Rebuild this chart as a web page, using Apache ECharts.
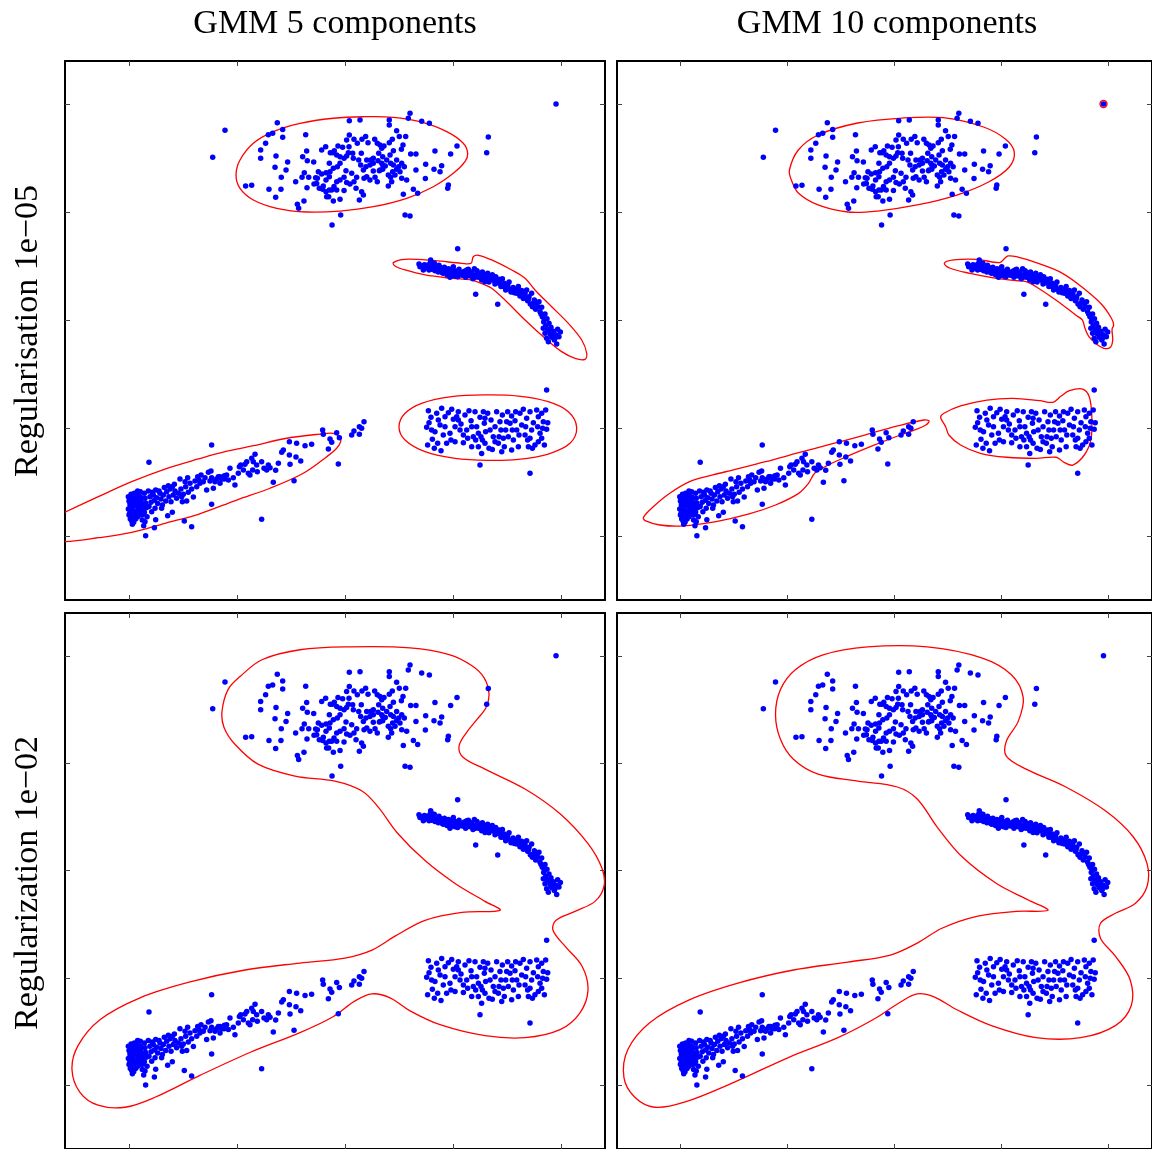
<!DOCTYPE html>
<html>
<head>
<meta charset="utf-8">
<script src="https://cdn.jsdelivr.net/npm/echarts@6/dist/echarts.min.js"></script>
<style>
html,body{margin:0;padding:0;background:#fff}
#chart{width:1152px;height:1149px}
</style>
</head>
<body>
<div id="chart"></div>
<script>
// Column / row headings
const colTitles = ['GMM 5 components', 'GMM 10 components'];
const rowTitles = ['Regularisation 1e\u221205', 'Regularization 1e\u221202'];

// Axis ticks (unlabelled) and visible data window
const tickValues = [-2, -1, 0, 1, 2];
const xRange = [-2.5926, 2.4074];
const yRange = [-2.5926, 2.3981];

// Sample points, grouped by the cluster they sit in
const topCluster = [[-1.111,1.756],[-1.225,1.506],[-0.627,1.827],[-0.577,1.765],[-0.670,1.728],[-0.710,1.716],[-0.735,1.636],[-0.781,1.574],[-0.781,1.497],[-0.577,1.691],[-0.364,1.716],[-0.639,1.519],[-0.531,1.463],[-0.648,1.414],[-0.546,1.389],[-0.590,1.321],[-0.593,1.210],[-0.704,1.210],[-0.642,1.136],[-0.920,1.241],[-0.864,1.247],[-0.457,1.281],[-0.441,1.071],[-0.429,1.034],[-0.380,1.102],[-0.355,1.565],[-0.392,1.512],[-0.349,1.475],[-0.290,1.463],[-0.377,1.364],[-0.398,1.321],[-0.336,1.321],[-0.352,1.225],[-0.272,1.318],[-0.247,1.373],[-0.287,1.259],[-0.216,1.574],[-0.179,1.605],[-0.136,1.549],[-0.099,1.568],[-0.065,1.611],[-0.022,1.599],[0.015,1.667],[0.040,1.713],[0.037,1.605],[0.071,1.543],[0.083,1.673],[0.114,1.636],[0.157,1.673],[0.191,1.698],[0.213,1.642],[0.275,1.673],[0.324,1.620],[0.361,1.611],[0.410,1.642],[0.438,1.673],[0.478,1.753],[0.503,1.698],[0.562,1.698],[0.537,1.620],[0.522,1.580],[0.448,1.568],[0.417,1.528],[0.349,1.512],[0.312,1.543],[0.262,1.497],[0.201,1.481],[0.151,1.543],[0.127,1.481],[0.145,1.435],[0.170,1.389],[0.194,1.420],[0.231,1.435],[0.238,1.481],[0.262,1.451],[0.306,1.475],[0.340,1.451],[0.373,1.426],[0.423,1.451],[0.478,1.481],[0.525,1.451],[0.549,1.420],[0.509,1.373],[0.478,1.395],[0.441,1.373],[0.401,1.343],[0.349,1.395],[0.318,1.383],[0.262,1.380],[0.201,1.327],[0.176,1.312],[0.108,1.321],[0.083,1.281],[0.062,1.358],[0.009,1.383],[-0.009,1.321],[-0.046,1.296],[-0.077,1.281],[-0.102,1.235],[-0.145,1.204],[-0.176,1.188],[-0.201,1.241],[-0.176,1.296],[-0.145,1.327],[-0.139,1.373],[-0.108,1.404],[-0.071,1.420],[-0.046,1.451],[-0.009,1.497],[0.015,1.519],[0.031,1.549],[0.077,1.497],[-0.046,1.512],[-0.077,1.528],[-0.114,1.549],[-0.145,1.451],[-0.176,1.364],[-0.216,1.352],[-0.256,1.312],[-0.262,1.265],[-0.238,1.219],[-0.207,1.210],[-0.170,1.142],[-0.123,1.204],[-0.077,1.204],[-0.046,1.117],[-0.108,1.102],[-0.151,1.142],[-0.009,1.198],[0.102,1.219],[0.154,1.188],[0.133,1.111],[0.170,1.157],[0.015,1.272],[0.046,1.259],[0.602,1.914],[0.586,1.867],[0.710,1.840],[0.781,1.821],[0.410,1.852],[0.410,1.806],[0.139,1.852],[0.040,1.846],[0.657,1.537],[0.608,1.537],[0.657,1.389],[0.747,1.441],[0.744,1.309],[0.824,1.395],[0.833,1.565],[0.895,1.429],[0.880,1.373],[0.978,1.537],[1.037,1.611],[0.957,1.250],[0.951,1.219],[0.540,1.164],[0.633,1.210],[0.673,1.173],[0.556,0.972],[0.602,0.963],[0.401,1.241],[0.432,1.281],[0.423,1.321],[0.463,1.343],[0.525,1.312],[0.571,1.296],[0.299,1.281],[0.278,1.321],[0.231,1.296],[0.324,1.389],[0.349,1.435],[0.448,1.435],[0.497,1.420],[0.386,1.481],[0.340,1.590],[0.299,1.636],[-0.040,0.972],[-0.120,0.880],[1.327,1.694],[1.312,1.549]];

const arcCluster = [[0.685,0.519],[0.710,0.500],[0.735,0.512],[0.747,0.481],[0.772,0.494],[0.787,0.525],[0.793,0.556],[0.802,0.469],[0.818,0.500],[0.833,0.457],[0.849,0.481],[0.864,0.444],[0.870,0.506],[0.889,0.469],[0.901,0.438],[0.920,0.488],[0.926,0.457],[0.944,0.420],[0.957,0.475],[0.972,0.444],[0.988,0.414],[1.003,0.494],[1.012,0.457],[1.025,0.432],[1.043,0.401],[1.056,0.469],[1.074,0.438],[1.086,0.414],[1.105,0.451],[1.117,0.395],[1.136,0.426],[1.142,0.469],[1.160,0.407],[1.173,0.444],[1.185,0.383],[1.198,0.475],[1.210,0.420],[1.222,0.457],[1.235,0.395],[1.250,0.432],[1.265,0.370],[1.272,0.444],[1.290,0.407],[1.302,0.377],[1.321,0.432],[1.333,0.352],[1.352,0.395],[1.364,0.420],[1.383,0.364],[1.395,0.401],[1.414,0.346],[1.426,0.377],[1.444,0.309],[1.457,0.383],[1.475,0.340],[1.488,0.278],[1.506,0.321],[1.519,0.352],[1.537,0.259],[1.556,0.302],[1.574,0.284],[1.590,0.247],[1.605,0.309],[1.620,0.222],[1.636,0.272],[1.651,0.198],[1.667,0.247],[1.682,0.278],[1.691,0.179],[1.704,0.216],[1.716,0.148],[1.728,0.247],[1.735,0.123],[1.753,0.185],[1.765,0.099],[1.778,0.154],[1.796,0.170],[1.806,0.077],[1.821,0.117],[1.827,0.031],[1.840,-0.019],[1.852,0.056],[1.858,-0.056],[1.870,0.012],[1.877,-0.093],[1.889,-0.031],[1.898,-0.130],[1.907,-0.068],[1.914,-0.160],[1.929,-0.105],[1.938,-0.185],[1.951,-0.136],[1.960,-0.222],[1.969,-0.086],[1.981,-0.154],[1.994,-0.111],[1.852,-0.123],[1.836,-0.077],[1.867,-0.170],[1.883,-0.201],[1.043,0.660],[1.210,0.238],[1.414,0.145],[0.802,0.531],[0.725,0.463],[0.910,0.432],[0.972,0.395],[1.127,0.463],[1.296,0.355],[1.389,0.333],[0.694,0.494],[0.756,0.506],[0.778,0.463],[0.827,0.525],[0.858,0.469],[0.880,0.488],[0.910,0.463],[0.941,0.451],[0.963,0.432],[0.981,0.469],[1.019,0.407],[1.034,0.451],[1.065,0.420],[1.096,0.432],[1.127,0.407],[1.157,0.438],[1.179,0.414],[1.204,0.395],[1.241,0.420],[1.259,0.401],[1.281,0.426],[1.312,0.401],[1.343,0.370],[1.373,0.389],[1.404,0.364],[1.435,0.340],[1.466,0.309],[1.497,0.302],[1.528,0.284],[1.568,0.253],[1.599,0.272],[1.630,0.241],[1.660,0.216],[1.698,0.191],[1.744,0.154],[1.784,0.123],[1.815,0.056],[1.846,0.006],[1.895,-0.086],[1.923,-0.136],[1.944,-0.170]];

const boxCluster = [[0.772,-0.840],[0.796,-0.901],[0.778,-0.951],[0.756,-0.994],[0.765,-1.157],[0.827,-1.188],[0.809,-1.105],[0.849,-0.864],[0.864,-0.926],[0.895,-0.818],[0.926,-0.988],[0.957,-0.858],[0.972,-1.049],[0.988,-0.827],[1.003,-0.920],[1.034,-0.895],[1.019,-1.127],[1.049,-0.849],[1.074,-0.963],[1.096,-1.136],[1.111,-0.880],[1.127,-1.019],[1.148,-0.840],[1.167,-0.932],[1.188,-1.080],[1.204,-0.849],[1.219,-0.988],[1.235,-1.173],[1.250,-0.901],[1.272,-1.111],[1.290,-0.957],[1.302,-1.034],[1.321,-0.864],[1.333,-1.188],[1.352,-0.926],[1.373,-1.080],[1.389,-0.988],[1.404,-0.849],[1.420,-1.142],[1.435,-0.941],[1.457,-0.880],[1.475,-1.173],[1.488,-1.019],[1.506,-0.849],[1.528,-0.957],[1.543,-0.889],[1.559,-1.111],[1.574,-0.932],[1.590,-1.019],[1.605,-1.173],[1.620,-0.864],[1.636,-0.972],[1.651,-0.827],[1.667,-1.065],[1.682,-0.910],[1.698,-1.173],[1.713,-0.849],[1.728,-1.019],[1.744,-0.951],[1.759,-1.157],[1.775,-0.833],[1.790,-0.895],[1.806,-1.049],[1.821,-0.864],[1.836,-0.941],[1.846,-1.157],[1.858,-0.833],[1.867,-1.012],[1.877,-0.951],[1.821,-1.096],[1.735,-1.188],[1.691,-1.111],[1.611,-1.065],[1.543,-1.204],[1.466,-1.096],[1.389,-1.127],[1.364,-1.198],[1.296,-1.142],[1.259,-1.080],[1.210,-1.111],[1.173,-1.173],[1.136,-1.096],[1.096,-1.065],[1.065,-1.019],[1.019,-0.988],[0.981,-1.111],[0.941,-1.142],[0.910,-1.065],[0.880,-0.972],[0.833,-1.034],[0.802,-1.019],[0.858,-1.142],[0.889,-1.210],[1.281,-0.849],[1.343,-1.019],[1.444,-1.019],[1.512,-1.080],[1.580,-0.849],[1.673,-0.988],[1.784,-0.988],[1.497,-0.941],[1.235,-1.049],[0.926,-0.895],[1.049,-0.926],[1.173,-0.988],[1.296,-0.910],[1.426,-1.080],[1.549,-1.019],[1.713,-1.096],[1.790,-1.127],[1.830,-1.003],[1.265,-1.235],[1.451,-1.219],[1.867,-0.648],[1.250,-1.343],[1.713,-1.420]];

const diagCluster = [[-2.006,-1.636],[-2.000,-1.676],[-1.991,-1.713],[-2.006,-1.750],[-1.994,-1.790],[-1.981,-1.821],[-1.975,-1.861],[-1.969,-1.892],[-1.981,-1.614],[-1.960,-1.651],[-1.954,-1.688],[-1.960,-1.728],[-1.951,-1.769],[-1.944,-1.806],[-1.938,-1.843],[-1.929,-1.620],[-1.926,-1.667],[-1.920,-1.707],[-1.914,-1.744],[-1.907,-1.781],[-1.920,-1.821],[-1.898,-1.636],[-1.889,-1.682],[-1.883,-1.719],[-1.877,-1.759],[-1.867,-1.799],[-1.895,-1.590],[-1.858,-1.605],[-1.852,-1.651],[-1.846,-1.694],[-1.840,-1.738],[-1.858,-1.781],[-1.833,-1.821],[-1.877,-1.852],[-1.991,-1.688],[-1.975,-1.759],[-1.944,-1.713],[-1.935,-1.645],[-1.907,-1.688],[-1.883,-1.651],[-1.864,-1.707],[-1.901,-1.731],[-1.963,-1.799],[-1.932,-1.775],[-2.000,-1.806],[-1.975,-1.651],[-1.951,-1.605],[-1.920,-1.583],[-1.988,-1.843],[-1.957,-1.873],[-1.852,-1.867],[-1.864,-1.904],[-1.821,-1.583],[-1.806,-1.636],[-1.796,-1.688],[-1.815,-1.728],[-1.790,-1.775],[-1.775,-1.620],[-1.765,-1.670],[-1.784,-1.596],[-1.753,-1.574],[-1.744,-1.645],[-1.735,-1.698],[-1.759,-1.744],[-1.713,-1.605],[-1.704,-1.657],[-1.722,-1.583],[-1.691,-1.713],[-1.682,-1.620],[-1.673,-1.552],[-1.660,-1.676],[-1.651,-1.590],[-1.636,-1.534],[-1.630,-1.636],[-1.620,-1.565],[-1.611,-1.682],[-1.599,-1.543],[-1.590,-1.620],[-1.580,-1.522],[-1.574,-1.583],[-1.559,-1.651],[-1.543,-1.605],[-1.528,-1.472],[-1.519,-1.565],[-1.512,-1.636],[-1.506,-1.682],[-1.497,-1.614],[-1.481,-1.497],[-1.475,-1.543],[-1.466,-1.676],[-1.457,-1.460],[-1.451,-1.596],[-1.435,-1.512],[-1.420,-1.565],[-1.404,-1.639],[-1.389,-1.491],[-1.373,-1.543],[-1.364,-1.451],[-1.352,-1.481],[-1.343,-1.512],[-1.333,-1.435],[-1.312,-1.497],[-1.296,-1.460],[-1.281,-1.574],[-1.265,-1.410],[-1.250,-1.491],[-1.241,-1.398],[-1.235,-1.460],[-1.219,-1.559],[-1.204,-1.497],[-1.188,-1.472],[-1.173,-1.451],[-1.157,-1.512],[-1.142,-1.472],[-1.127,-1.460],[-1.117,-1.441],[-1.815,-1.318],[-1.235,-1.157],[-1.846,-1.997],[-1.765,-1.923],[-1.753,-1.849],[-1.698,-1.744],[-1.642,-1.812],[-1.599,-1.781],[-1.488,-1.861],[-1.420,-1.914],[-1.235,-1.707],[-1.883,-1.806],[-1.157,-1.451],[-1.120,-1.472],[-1.080,-1.481],[-1.065,-1.373],[-1.019,-1.528],[-0.988,-1.420],[-0.978,-1.358],[-0.966,-1.343],[-0.926,-1.336],[-0.910,-1.312],[-0.895,-1.420],[-0.880,-1.435],[-0.864,-1.281],[-0.855,-1.389],[-0.849,-1.312],[-0.833,-1.244],[-0.812,-1.404],[-0.772,-1.312],[-0.750,-1.373],[-0.710,-1.343],[-0.694,-1.367],[-0.664,-1.503],[-0.642,-1.392],[-0.586,-1.225],[-0.571,-1.204],[-0.515,-1.250],[-0.509,-1.336],[-0.515,-1.127],[-0.472,-1.488],[-0.454,-1.269],[-0.448,-1.142],[-0.410,-1.306],[-0.370,-1.164],[-0.309,-1.151],[-0.207,-1.019],[-0.201,-1.059],[-0.154,-1.194],[-0.139,-1.102],[-0.123,-1.133],[-0.077,-1.043],[-0.062,-1.333],[-0.052,-1.090],[0.062,-1.065],[0.083,-1.028],[0.133,-1.059],[0.133,-0.988],[0.154,-1.003],[0.176,-0.941],[-0.772,-1.846],[-1.096,-1.435],[-1.034,-1.460],[-0.941,-1.389],[-0.818,-1.343],[-0.725,-1.389],[-0.617,-1.327]];

const strayPoint = [1.954, 2.000];

// Density contours, 5 components, regularisation 1e-05
const ring5Top = [[-1.009,1.343],[-0.972,1.481],[-0.849,1.636],[-0.664,1.744],[-0.417,1.821],[-0.108,1.868],[0.169,1.882],[0.447,1.877],[0.694,1.836],[0.942,1.744],[1.095,1.636],[1.136,1.543],[1.111,1.466],[1.003,1.358],[0.818,1.234],[0.571,1.127],[0.262,1.049],[-0.046,1.009],[-0.355,1.000],[-0.632,1.034],[-0.849,1.111],[-0.972,1.219]];
const ring5Arc = [[0.447,0.531],[0.556,0.562],[0.833,0.549],[1.081,0.525],[1.167,0.525],[1.188,0.586],[1.234,0.599],[1.358,0.556],[1.544,0.463],[1.667,0.386],[1.759,0.278],[1.914,0.123],[2.068,-0.031],[2.192,-0.185],[2.238,-0.308],[2.222,-0.364],[2.130,-0.355],[2.006,-0.293],[1.852,-0.169],[1.667,0.000],[1.481,0.185],[1.358,0.293],[1.296,0.324],[1.173,0.370],[0.988,0.386],[0.741,0.417],[0.556,0.463],[0.463,0.500]];
const ring5Box = [[0.500,-0.988],[0.556,-0.864],[0.710,-0.771],[0.988,-0.710],[1.296,-0.694],[1.605,-0.704],[1.882,-0.756],[2.068,-0.849],[2.145,-0.994],[2.083,-1.142],[1.882,-1.241],[1.605,-1.290],[1.327,-1.299],[1.019,-1.281],[0.741,-1.219],[0.556,-1.111]];
const ring5Diag = [[-2.935,-1.963],[-2.824,-1.889],[-2.593,-1.780],[-2.284,-1.636],[-1.975,-1.497],[-1.667,-1.380],[-1.358,-1.287],[-1.111,-1.219],[-0.849,-1.164],[-0.540,-1.095],[-0.231,-1.056],[-0.108,-1.049],[-0.053,-1.081],[-0.040,-1.127],[-0.077,-1.188],[-0.169,-1.266],[-0.386,-1.419],[-0.694,-1.558],[-1.003,-1.667],[-1.358,-1.799],[-1.667,-1.882],[-1.975,-1.966],[-2.284,-2.016],[-2.593,-2.053],[-2.806,-2.046]];

// Density contours, 10 components, regularisation 1e-05
const ring10Top = [[-0.981,1.389],[-0.898,1.574],[-0.713,1.713],[-0.343,1.824],[0.074,1.870],[0.491,1.870],[0.833,1.787],[1.037,1.676],[1.120,1.556],[1.074,1.417],[0.880,1.278],[0.583,1.157],[0.213,1.065],[-0.157,1.009],[-0.435,1.000],[-0.713,1.065],[-0.898,1.176],[-0.963,1.296]];
const ring10Arc = [[0.466,0.525],[0.553,0.556],[0.769,0.562],[0.984,0.531],[1.031,0.571],[1.062,0.593],[1.139,0.586],[1.324,0.531],[1.571,0.432],[1.787,0.278],[1.942,0.139],[2.028,0.016],[2.049,-0.046],[2.034,-0.086],[2.040,-0.185],[2.019,-0.253],[1.957,-0.262],[1.880,-0.216],[1.818,-0.155],[1.781,-0.077],[1.756,0.000],[1.694,0.046],[1.509,0.185],[1.324,0.308],[1.231,0.355],[1.139,0.364],[0.954,0.386],[0.706,0.432],[0.521,0.479]];
const ring10Box = [[0.432,-0.901],[0.463,-0.864],[0.618,-0.796],[0.864,-0.741],[1.111,-0.725],[1.358,-0.747],[1.481,-0.762],[1.558,-0.704],[1.636,-0.655],[1.759,-0.639],[1.821,-0.710],[1.845,-0.895],[1.836,-1.111],[1.775,-1.250],[1.667,-1.343],[1.590,-1.321],[1.512,-1.271],[1.327,-1.281],[1.049,-1.271],[0.803,-1.234],[0.618,-1.157],[0.509,-1.065],[0.479,-0.988]];
const ring10Diag = [[-2.345,-1.827],[-2.253,-1.729],[-2.099,-1.605],[-1.914,-1.497],[-1.697,-1.435],[-1.512,-1.389],[-1.204,-1.312],[-0.895,-1.229],[-0.586,-1.148],[-0.278,-1.065],[0.031,-0.981],[0.278,-0.926],[0.324,-0.935],[0.294,-0.972],[0.185,-1.019],[0.031,-1.074],[-0.185,-1.157],[-0.432,-1.259],[-0.618,-1.343],[-0.741,-1.414],[-0.803,-1.512],[-0.895,-1.605],[-1.111,-1.713],[-1.358,-1.796],[-1.667,-1.867],[-1.975,-1.907],[-2.192,-1.898],[-2.330,-1.858]];
const ring10Stray = [[1.987,2.000],[1.977,2.023],[1.954,2.033],[1.931,2.023],[1.921,2.000],[1.931,1.977],[1.954,1.967],[1.977,1.977]];

// Density contours with regularisation 1e-02 (one merged envelope each)
const envelope5 = [[-1.139,1.481],[-1.083,1.685],[-0.972,1.806],[-0.769,1.963],[-0.417,2.056],[0.046,2.083],[0.602,2.074],[0.972,2.009],[1.176,1.907],[1.287,1.796],[1.333,1.648],[1.306,1.519],[1.222,1.407],[1.120,1.278],[1.056,1.157],[1.093,1.056],[1.296,0.944],[1.667,0.759],[1.991,0.528],[2.250,0.250],[2.380,0.019],[2.398,-0.148],[2.315,-0.287],[2.130,-0.380],[1.954,-0.463],[1.926,-0.556],[2.037,-0.704],[2.194,-0.889],[2.250,-1.111],[2.176,-1.324],[1.991,-1.481],[1.667,-1.556],[1.296,-1.537],[0.880,-1.435],[0.602,-1.306],[0.417,-1.185],[0.250,-1.148],[0.093,-1.213],[-0.111,-1.361],[-0.417,-1.509],[-0.880,-1.694],[-1.343,-1.907],[-1.759,-2.111],[-2.037,-2.204],[-2.287,-2.185],[-2.454,-2.065],[-2.528,-1.852],[-2.472,-1.630],[-2.269,-1.389],[-1.898,-1.185],[-1.435,-1.037],[-0.926,-0.926],[-0.417,-0.861],[0.000,-0.815],[0.250,-0.741],[0.463,-0.611],[0.741,-0.463],[1.083,-0.389],[1.435,-0.370],[1.296,-0.287],[1.019,-0.120],[0.741,0.093],[0.491,0.343],[0.306,0.593],[0.157,0.741],[-0.093,0.833],[-0.463,0.880],[-0.806,0.991],[-1.019,1.176],[-1.120,1.333]];
const envelope10 = [[-1.111,1.454],[-1.065,1.685],[-0.926,1.870],[-0.667,2.009],[-0.250,2.083],[0.306,2.083],[0.815,1.981],[1.093,1.824],[1.204,1.611],[1.157,1.389],[1.046,1.204],[1.046,1.065],[1.231,0.944],[1.602,0.778],[1.972,0.556],[2.231,0.315],[2.361,0.065],[2.361,-0.148],[2.250,-0.306],[2.065,-0.398],[1.926,-0.491],[1.926,-0.630],[2.065,-0.796],[2.204,-1.019],[2.213,-1.259],[2.065,-1.444],[1.741,-1.556],[1.324,-1.556],[0.907,-1.444],[0.583,-1.296],[0.370,-1.176],[0.213,-1.148],[0.046,-1.231],[-0.185,-1.380],[-0.528,-1.556],[-0.991,-1.741],[-1.500,-1.972],[-1.963,-2.157],[-2.241,-2.204],[-2.426,-2.111],[-2.528,-1.926],[-2.491,-1.667],[-2.287,-1.417],[-1.917,-1.204],[-1.454,-1.046],[-0.944,-0.926],[-0.435,-0.852],[-0.037,-0.787],[0.213,-0.676],[0.444,-0.537],[0.769,-0.426],[1.139,-0.380],[1.435,-0.370],[1.278,-0.287],[0.954,-0.120],[0.630,0.130],[0.398,0.407],[0.213,0.667],[0.028,0.778],[-0.343,0.833],[-0.713,0.898],[-0.944,1.037],[-1.065,1.222]];

// Panel placement: [5 comp / 1e-05, 10 comp / 1e-05, 5 comp / 1e-02, 10 comp / 1e-02]
const panelBoxes = [
  {left: 65, top: 61}, {left: 617, top: 61},
  {left: 65, top: 613}, {left: 617, top: 613}
];
const panelRings = [
  [ring5Top, ring5Arc, ring5Box, ring5Diag],
  [ring10Top, ring10Arc, ring10Box, ring10Diag, ring10Stray],
  [envelope5],
  [envelope10]
];

const allPoints = topCluster.concat(arcCluster, boxCluster, diagCluster, [strayPoint]);

const frameLine = {show: true, onZero: false, lineStyle: {color: '#000', width: 2}};
const tickStyle = {show: true, inside: true, length: 5, customValues: tickValues,
                   lineStyle: {color: '#444', width: 1}};

const grids = [], xAxes = [], yAxes = [], series = [];
panelBoxes.forEach((b, i) => {
  grids.push({left: b.left, top: b.top, width: 540, height: 539, show: false});
  ['bottom', 'top'].forEach(pos => xAxes.push({
    gridIndex: i, type: 'value', position: pos, min: xRange[0], max: xRange[1],
    axisLine: frameLine, axisTick: tickStyle, axisLabel: {show: false}, splitLine: {show: false}
  }));
  ['left', 'right'].forEach(pos => yAxes.push({
    gridIndex: i, type: 'value', position: pos, min: yRange[0], max: yRange[1],
    axisLine: frameLine, axisTick: tickStyle, axisLabel: {show: false}, splitLine: {show: false}
  }));

  const rings = panelRings[i];
  series.push({
    type: 'custom', xAxisIndex: 2 * i, yAxisIndex: 2 * i, z: 2, silent: true, clip: true,
    data: rings.map(r => r[0]),
    renderItem(params, api) {
      const ring = rings[params.dataIndex];
      const cs = params.coordSys;
      return {
        type: 'group',
        clipPath: {type: 'rect', shape: {x: cs.x, y: cs.y, width: cs.width, height: cs.height}},
        children: [{
          type: 'polygon',
          shape: {points: ring.map(p => api.coord(p)), smooth: 0.35},
          style: {fill: 'none', stroke: '#ff0000', lineWidth: 1.3}
        }]
      };
    }
  });
  series.push({
    type: 'scatter', xAxisIndex: 2 * i, yAxisIndex: 2 * i, z: 3, silent: true,
    data: allPoints, symbol: 'circle', symbolSize: 5.5,
    itemStyle: {color: '#0000ff', opacity: 1}
  });
});

const serif = '"Liberation Serif", "Times New Roman", serif';
const labels = [
  {type: 'text', x: 335, y: 24, style: {text: colTitles[0], font: '34px ' + serif, fill: '#000', textAlign: 'center', textVerticalAlign: 'middle'}},
  {type: 'text', x: 887, y: 24, style: {text: colTitles[1], font: '34px ' + serif, fill: '#000', textAlign: 'center', textVerticalAlign: 'middle'}},
  {type: 'text', x: 28, y: 331, rotation: Math.PI / 2, style: {text: rowTitles[0], font: '34px ' + serif, fill: '#000', textAlign: 'center', textVerticalAlign: 'middle'}},
  {type: 'text', x: 28, y: 883, rotation: Math.PI / 2, style: {text: rowTitles[1], font: '34px ' + serif, fill: '#000', textAlign: 'center', textVerticalAlign: 'middle'}}
];

const chart = echarts.init(document.getElementById('chart'), null, {renderer: 'canvas'});
chart.setOption({
  backgroundColor: '#fff',
  animation: false,
  grid: grids,
  xAxis: xAxes,
  yAxis: yAxes,
  series: series,
  graphic: labels
});
</script>
</body>
</html>
